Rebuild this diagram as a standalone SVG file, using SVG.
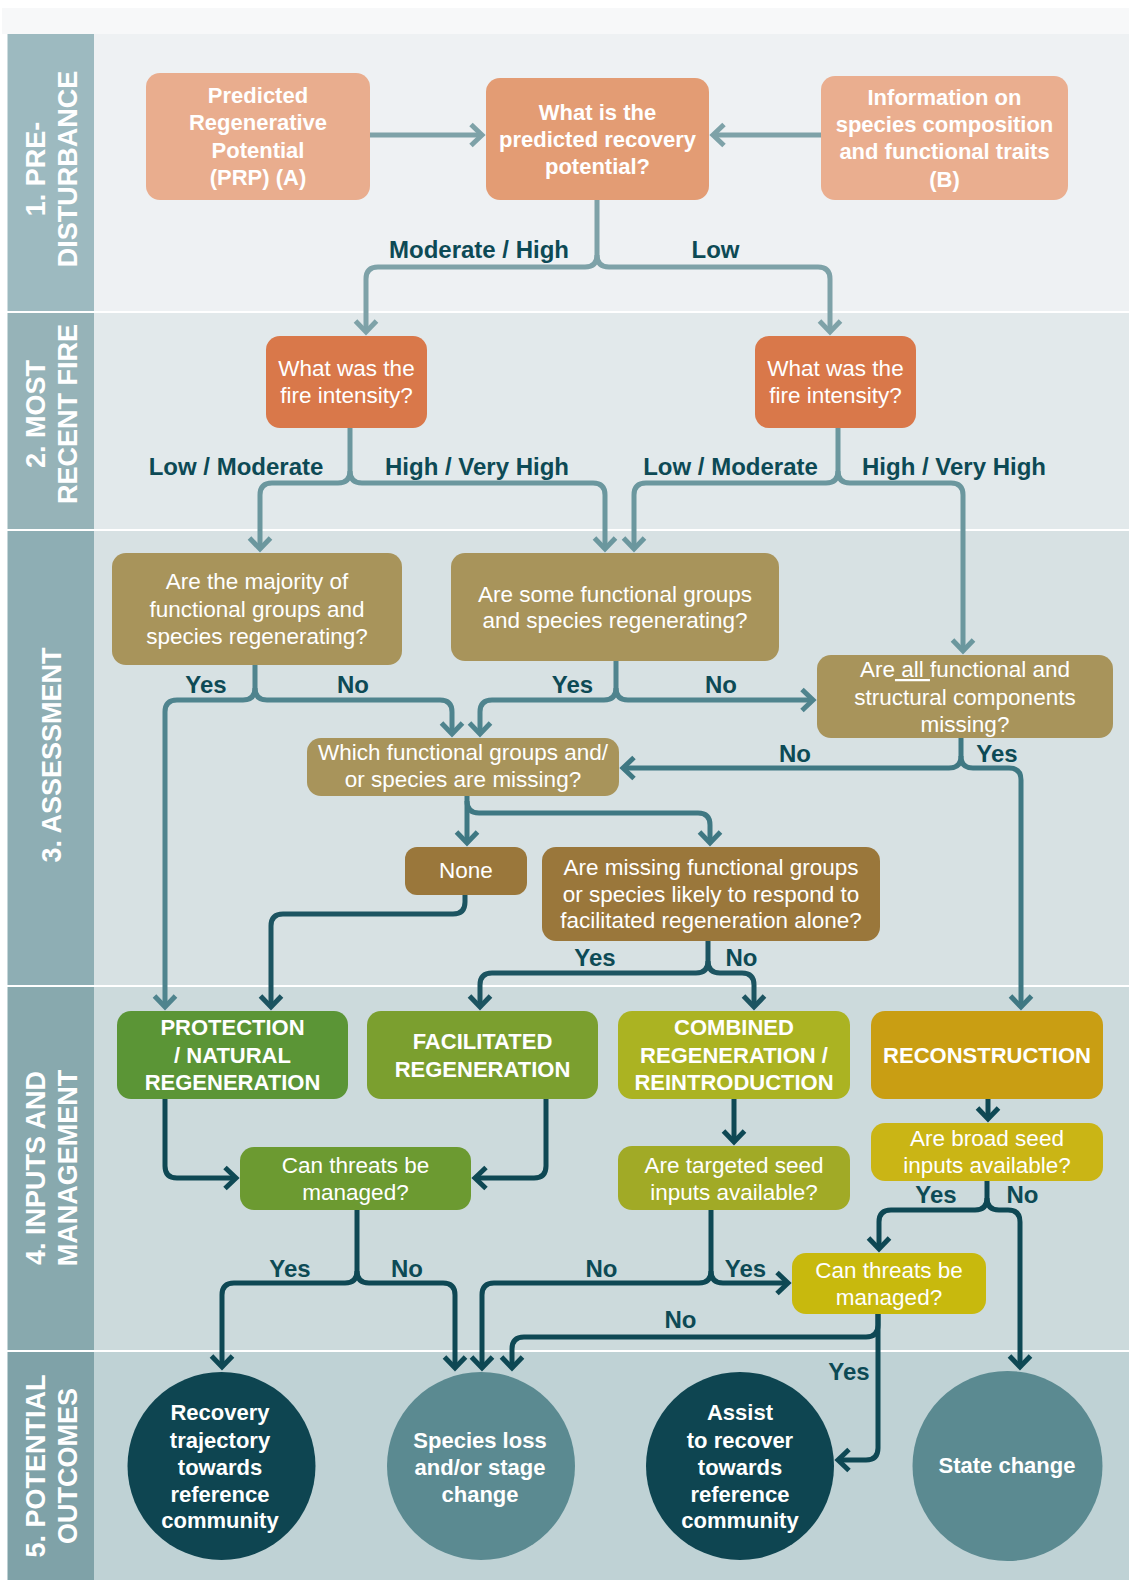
<svg xmlns="http://www.w3.org/2000/svg" width="1129" height="1580" viewBox="0 0 1129 1580">
  <defs>
    <style>
      .lbl { font-family: "Liberation Sans", Arial, sans-serif; font-weight: bold; font-size: 27px; fill: #ffffff; text-anchor: middle; }
      .nb { font-family: "Liberation Sans", Arial, sans-serif; font-weight: bold; font-size: 22px; fill: #ffffff; text-anchor: middle; }
      .nr { font-family: "Liberation Sans", Arial, sans-serif; font-size: 22.5px; fill: #ffffff; text-anchor: middle; }
      .el { font-family: "Liberation Sans", Arial, sans-serif; font-weight: bold; font-size: 24px; fill: #0d4a55; text-anchor: middle; }
      .c { fill: none; stroke-width: 5; stroke-linejoin: round; }
      .c1 { stroke: #7ea2a8; marker-end: url(#a1); }
      .c2 { stroke: #6b979e; marker-end: url(#a2); }
      .c3 { stroke: #4f848e; marker-end: url(#a3); }
      .c4 { stroke: #3f7883; marker-end: url(#a4); }
      .c5 { stroke: #1c5461; marker-end: url(#a5); }
      .c6 { stroke: #0e4854; marker-end: url(#a6); }
      .nm { marker-end: none; }
    </style>
    <marker id="a1" viewBox="-18 -15 24 30" refX="0" refY="0" markerWidth="24" markerHeight="30" markerUnits="userSpaceOnUse" orient="auto"><path d="M-11,-10.5 L0,0 L-11,10.5" fill="none" stroke="#7ea2a8" stroke-width="5"/></marker>
    <marker id="a2" viewBox="-18 -15 24 30" refX="0" refY="0" markerWidth="24" markerHeight="30" markerUnits="userSpaceOnUse" orient="auto"><path d="M-11,-10.5 L0,0 L-11,10.5" fill="none" stroke="#6b979e" stroke-width="5"/></marker>
    <marker id="a3" viewBox="-18 -15 24 30" refX="0" refY="0" markerWidth="24" markerHeight="30" markerUnits="userSpaceOnUse" orient="auto"><path d="M-11,-10.5 L0,0 L-11,10.5" fill="none" stroke="#4f848e" stroke-width="5"/></marker>
    <marker id="a4" viewBox="-18 -15 24 30" refX="0" refY="0" markerWidth="24" markerHeight="30" markerUnits="userSpaceOnUse" orient="auto"><path d="M-11,-10.5 L0,0 L-11,10.5" fill="none" stroke="#3f7883" stroke-width="5"/></marker>
    <marker id="a5" viewBox="-18 -15 24 30" refX="0" refY="0" markerWidth="24" markerHeight="30" markerUnits="userSpaceOnUse" orient="auto"><path d="M-11,-10.5 L0,0 L-11,10.5" fill="none" stroke="#1c5461" stroke-width="5"/></marker>
    <marker id="a6" viewBox="-18 -15 24 30" refX="0" refY="0" markerWidth="24" markerHeight="30" markerUnits="userSpaceOnUse" orient="auto"><path d="M-11,-10.5 L0,0 L-11,10.5" fill="none" stroke="#0e4854" stroke-width="5"/></marker>
  </defs>

  <!-- page and swim lanes -->
  <g id="lanes">
    <rect x="0" y="0" width="1129" height="1580" fill="#ffffff"/>
    <rect x="2" y="8" width="1127" height="26" fill="#f7f8f9"/>
    <rect x="94" y="34" width="1035" height="277" fill="#eef1f3"/>
    <rect x="94" y="313" width="1035" height="216" fill="#e2e9eb"/>
    <rect x="94" y="531" width="1035" height="454" fill="#d7e1e3"/>
    <rect x="94" y="987" width="1035" height="363" fill="#ccdadc"/>
    <rect x="94" y="1352" width="1035" height="228" fill="#bfd2d5"/>
    <rect x="7.5" y="34" width="86.5" height="277" fill="#9dbac0"/>
    <rect x="7.5" y="313" width="86.5" height="216" fill="#96b3b8"/>
    <rect x="7.5" y="531" width="86.5" height="454" fill="#8eaeb4"/>
    <rect x="7.5" y="987" width="86.5" height="363" fill="#88a9ae"/>
    <rect x="7.5" y="1352" width="86.5" height="228" fill="#7fa2a8"/>
  </g>

  <g id="lane-labels">
    <text class="lbl" transform="translate(45,169) rotate(-90)">1. PRE-</text>
    <text class="lbl" transform="translate(77,169) rotate(-90)">DISTURBANCE</text>
    <text class="lbl" transform="translate(45,414) rotate(-90)">2. MOST</text>
    <text class="lbl" transform="translate(77,414) rotate(-90)">RECENT FIRE</text>
    <text class="lbl" transform="translate(61,755) rotate(-90)">3. ASSESSMENT</text>
    <text class="lbl" transform="translate(45,1168) rotate(-90)">4. INPUTS AND</text>
    <text class="lbl" transform="translate(77,1168) rotate(-90)">MANAGEMENT</text>
    <text class="lbl" transform="translate(45,1466) rotate(-90)">5. POTENTIAL</text>
    <text class="lbl" transform="translate(77,1466) rotate(-90)">OUTCOMES</text>
  </g>

  <!-- connectors -->
  <g id="connectors">
    <path class="c c1" d="M370,135 H482"/>
    <path class="c c1" d="M821,135 H713"/>
    <path class="c c1" d="M597,200 V255 Q597,267 585,267 H378 Q366,267 366,279 V332"/>
    <path class="c c1" d="M597,255 Q597,267 609,267 H818 Q830,267 830,279 V332"/>

    <path class="c c2" d="M350,428 V471 Q350,483 338,483 H272 Q260,483 260,495 V549"/>
    <path class="c c2" d="M350,471 Q350,483 362,483 H593 Q605,483 605,495 V549"/>
    <path class="c c2" d="M838,428 V471 Q838,483 826,483 H646 Q634,483 634,495 V549"/>
    <path class="c c2" d="M838,471 Q838,483 850,483 H951 Q963,483 963,495 V651"/>

    <path class="c c3" d="M255,665 V688 Q255,700 243,700 H177 Q165,700 165,712 V1007"/>
    <path class="c c3" d="M255,688 Q255,700 267,700 H440 Q452,700 452,712 V734"/>
    <path class="c c3" d="M616,661 V688 Q616,700 604,700 H492 Q480,700 480,712 V734"/>
    <path class="c c3" d="M616,688 Q616,700 628,700 H813"/>

    <path class="c c4" d="M961,738 V756 Q961,768 949,768 H623"/>
    <path class="c c4" d="M961,756 Q961,768 973,768 H1009 Q1021,768 1021,780 V1007"/>
    <path class="c c4" d="M467,796 V843"/>
    <path class="c c4" d="M467,801 Q467,813 479,813 H698 Q710,813 710,825 V843"/>

    <path class="c c5" d="M465,895 V902 Q465,914 453,914 H283 Q271,914 271,926 V1007"/>
    <path class="c c5" d="M708,941 V961 Q708,973 696,973 H492 Q480,973 480,985 V1007"/>
    <path class="c c5" d="M708,961 Q708,973 720,973 H742 Q754,973 754,985 V1007"/>

    <path class="c c6" d="M734,1099 V1142"/>
    <path class="c c6" d="M988,1099 V1119"/>
    <path class="c c6" d="M165,1099 V1166 Q165,1178 177,1178 H236"/>
    <path class="c c6" d="M546,1099 V1166 Q546,1178 534,1178 H475"/>
    <path class="c c6" d="M357,1210 V1271 Q357,1283 345,1283 H234 Q222,1283 222,1295 V1367"/>
    <path class="c c6" d="M357,1271 Q357,1283 369,1283 H443 Q455,1283 455,1295 V1368"/>
    <path class="c c6" d="M711,1210 V1271 Q711,1283 699,1283 H494 Q482,1283 482,1295 V1368"/>
    <path class="c c6" d="M711,1271 Q711,1283 723,1283 H788"/>
    <path class="c c6" d="M987,1181 V1198 Q987,1210 975,1210 H891 Q879,1210 879,1222 V1249"/>
    <path class="c c6" d="M987,1198 Q987,1210 999,1210 H1008 Q1020,1210 1020,1222 V1367"/>
    <path class="c c6" d="M878,1314 V1325 Q878,1337 866,1337 H524 Q512,1337 512,1349 V1368"/>
    <path class="c c6" d="M878,1314 V1448 Q878,1460 866,1460 H838"/>
  </g>

  <g id="connector-labels">
    <text class="el" x="479" y="258">Moderate / High</text>
    <text class="el" x="715.5" y="258">Low</text>
    <text class="el" x="236" y="475">Low / Moderate</text>
    <text class="el" x="477" y="475">High / Very High</text>
    <text class="el" x="730.5" y="475">Low / Moderate</text>
    <text class="el" x="954" y="475">High / Very High</text>
    <text class="el" x="206" y="693">Yes</text>
    <text class="el" x="353" y="693">No</text>
    <text class="el" x="572.5" y="693">Yes</text>
    <text class="el" x="721" y="693">No</text>
    <text class="el" x="795" y="762">No</text>
    <text class="el" x="997" y="762">Yes</text>
    <text class="el" x="595" y="966">Yes</text>
    <text class="el" x="741.5" y="966">No</text>
    <text class="el" x="936" y="1203">Yes</text>
    <text class="el" x="1022.5" y="1203">No</text>
    <text class="el" x="290" y="1277">Yes</text>
    <text class="el" x="407" y="1277">No</text>
    <text class="el" x="601.5" y="1277">No</text>
    <text class="el" x="745.5" y="1277">Yes</text>
    <text class="el" x="680.5" y="1328">No</text>
    <text class="el" x="849" y="1380">Yes</text>
  </g>

  <!-- 1. pre-disturbance -->
  <g id="prp">
    <rect x="146" y="73" width="224" height="127" rx="14" fill="#e9ad8e"/>
    <text class="nb" x="258"><tspan x="258" y="103">Predicted</tspan><tspan x="258" y="130">Regenerative</tspan><tspan x="258" y="158">Potential</tspan><tspan x="258" y="185">(PRP) (A)</tspan></text>
  </g>
  <g id="recovery-potential">
    <rect x="486" y="78" width="223" height="122" rx="14" fill="#e39c74"/>
    <text class="nb"><tspan x="597.5" y="120">What is the</tspan><tspan x="597.5" y="147">predicted recovery</tspan><tspan x="597.5" y="174">potential?</tspan></text>
  </g>
  <g id="species-info">
    <rect x="821" y="76" width="247" height="124" rx="14" fill="#eaae8f"/>
    <text class="nb"><tspan x="944.5" y="105">Information on</tspan><tspan x="944.5" y="132">species composition</tspan><tspan x="944.5" y="159">and functional traits</tspan><tspan x="944.5" y="187">(B)</tspan></text>
  </g>

  <!-- 2. most recent fire -->
  <g id="fire-intensity-1">
    <rect x="266" y="336" width="161" height="92" rx="14" fill="#d9784a"/>
    <text class="nr"><tspan x="346.5" y="376">What was the</tspan><tspan x="346.5" y="403">fire intensity?</tspan></text>
  </g>
  <g id="fire-intensity-2">
    <rect x="755" y="336" width="161" height="92" rx="14" fill="#d9784a"/>
    <text class="nr"><tspan x="835.5" y="376">What was the</tspan><tspan x="835.5" y="403">fire intensity?</tspan></text>
  </g>

  <!-- 3. assessment -->
  <g id="majority-regenerating">
    <rect x="112" y="553" width="290" height="112" rx="14" fill="#a8945b"/>
    <text class="nr"><tspan x="257" y="589">Are the majority of</tspan><tspan x="257" y="617">functional groups and</tspan><tspan x="257" y="644">species regenerating?</tspan></text>
  </g>
  <g id="some-regenerating">
    <rect x="451" y="553" width="328" height="108" rx="14" fill="#a8945b"/>
    <text class="nr"><tspan x="615" y="602">Are some functional groups</tspan><tspan x="615" y="628">and species regenerating?</tspan></text>
  </g>
  <g id="all-missing">
    <rect x="817" y="655" width="296" height="83" rx="14" fill="#a8945b"/>
    <text class="nr" style="white-space:pre"><tspan x="965" y="677">Are<tspan text-decoration="underline"> all </tspan>functional and</tspan><tspan x="965" y="705">structural components</tspan><tspan x="965" y="732">missing?</tspan></text>
  </g>
  <g id="which-missing">
    <rect x="307" y="738" width="312" height="58" rx="14" fill="#a8945b"/>
    <text class="nr"><tspan x="463" y="760">Which functional groups and/</tspan><tspan x="463" y="787">or species are missing?</tspan></text>
  </g>
  <g id="none">
    <rect x="405" y="847" width="122" height="48" rx="12" fill="#9a773b"/>
    <text class="nr" x="466" y="878">None</text>
  </g>
  <g id="likely-to-respond">
    <rect x="542" y="847" width="338" height="94" rx="14" fill="#9a773b"/>
    <text class="nr"><tspan x="711" y="875">Are missing functional groups</tspan><tspan x="711" y="902">or species likely to respond to</tspan><tspan x="711" y="928">facilitated regeneration alone?</tspan></text>
  </g>

  <!-- 4. inputs and management -->
  <g id="protection">
    <rect x="117" y="1011" width="231" height="88" rx="14" fill="#5b9536"/>
    <text class="nb"><tspan x="232.5" y="1035">PROTECTION</tspan><tspan x="232.5" y="1063">/ NATURAL</tspan><tspan x="232.5" y="1090">REGENERATION</tspan></text>
  </g>
  <g id="facilitated">
    <rect x="367" y="1011" width="231" height="88" rx="14" fill="#7b9f2f"/>
    <text class="nb"><tspan x="482.5" y="1049">FACILITATED</tspan><tspan x="482.5" y="1077">REGENERATION</tspan></text>
  </g>
  <g id="combined">
    <rect x="618" y="1011" width="232" height="88" rx="14" fill="#abb322"/>
    <text class="nb"><tspan x="734" y="1035">COMBINED</tspan><tspan x="734" y="1063">REGENERATION /</tspan><tspan x="734" y="1090">REINTRODUCTION</tspan></text>
  </g>
  <g id="reconstruction">
    <rect x="871" y="1011" width="232" height="88" rx="14" fill="#c99e13"/>
    <text class="nb" x="987" y="1063">RECONSTRUCTION</text>
  </g>
  <g id="threats-1">
    <rect x="240" y="1147" width="231" height="63" rx="14" fill="#6c9a31"/>
    <text class="nr"><tspan x="355.5" y="1173">Can threats be</tspan><tspan x="355.5" y="1200">managed?</tspan></text>
  </g>
  <g id="targeted-seed">
    <rect x="618" y="1146" width="232" height="64" rx="14" fill="#a1aa26"/>
    <text class="nr"><tspan x="734" y="1173">Are targeted seed</tspan><tspan x="734" y="1200">inputs available?</tspan></text>
  </g>
  <g id="broad-seed">
    <rect x="871" y="1123" width="232" height="58" rx="14" fill="#cab515"/>
    <text class="nr"><tspan x="987" y="1146">Are broad seed</tspan><tspan x="987" y="1173">inputs available?</tspan></text>
  </g>
  <g id="threats-2">
    <rect x="792" y="1253" width="194" height="61" rx="14" fill="#c8b90d"/>
    <text class="nr"><tspan x="889" y="1278">Can threats be</tspan><tspan x="889" y="1305">managed?</tspan></text>
  </g>

  <!-- 5. potential outcomes -->
  <g id="recovery-trajectory">
    <circle cx="221.5" cy="1466" r="94" fill="#0e4551"/>
    <text class="nb"><tspan x="220" y="1420">Recovery</tspan><tspan x="220" y="1448">trajectory</tspan><tspan x="220" y="1475">towards</tspan><tspan x="220" y="1502">reference</tspan><tspan x="220" y="1528">community</tspan></text>
  </g>
  <g id="species-loss">
    <circle cx="481" cy="1466" r="94" fill="#5b8a91"/>
    <text class="nb"><tspan x="480" y="1448">Species loss</tspan><tspan x="480" y="1475">and/or stage</tspan><tspan x="480" y="1502">change</tspan></text>
  </g>
  <g id="assist-recovery">
    <circle cx="740" cy="1466" r="94" fill="#0e4551"/>
    <text class="nb"><tspan x="740" y="1420">Assist</tspan><tspan x="740" y="1448">to recover</tspan><tspan x="740" y="1475">towards</tspan><tspan x="740" y="1502">reference</tspan><tspan x="740" y="1528">community</tspan></text>
  </g>
  <g id="state-change">
    <circle cx="1007.5" cy="1466" r="95" fill="#5b8a91"/>
    <text class="nb" x="1007" y="1473">State change</text>
  </g>
</svg>
